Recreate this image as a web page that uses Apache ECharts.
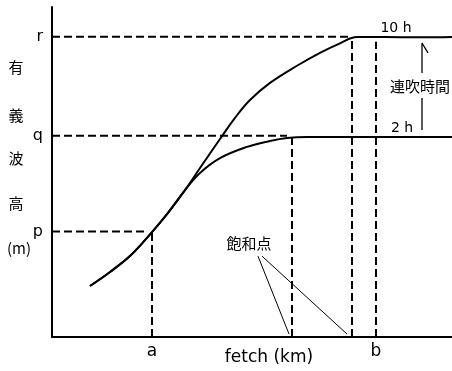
<!DOCTYPE html>
<html>
<head>
<meta charset="utf-8">
<script src="https://cdn.jsdelivr.net/npm/echarts@6/dist/echarts.min.js"></script>
<style>html,body{margin:0;padding:0;background:#fff}#c{width:452px;height:371px}</style>
</head>
<body>
<div id="c"></div>
<script>
// ---- data (arbitrary units: fetch 0..100, wave height 0..100) ----
const xTickLabels = ['a', 'b'];
const xTickValues = [25, 81];
const yTickLabels = ['p', 'q', 'r'];
const yTickValues = [32, 61, 91];
const yTitleChars = ['有', '義', '波', '高', '(m)'];
const xTitle = 'fetch (km)';
const curveNames = ['10 h', '2 h'];
const durationLabel = '連吹時間';
const saturationLabel = '飽和点';

const curve10h = [
  [9.5, 15.45], [14.5, 19.7], [19.75, 24.85], [25, 31.8], [29, 37.6],
  [33.25, 44.5], [37, 51.2], [42, 60], [45.75, 66.4], [49.5, 71.8],
  [54.5, 77.0], [61.25, 82.2], [67, 86.1], [72, 89.0], [76.25, 90.9],
  [83.25, 90.9], [92, 90.8], [100, 90.9]
];
const curve2h = [
  [9.5, 15.45], [14.5, 19.7], [19.75, 24.85], [25, 31.8], [29, 37.6],
  [33.25, 44.5], [37, 49.7], [42, 54.2], [48.75, 57.6], [54.5, 59.4],
  [58.75, 60.3], [63.75, 60.6], [77, 60.6], [100, 60.6]
];
const sat2h = 60, sat10h = 75;
const hDashes = [
  [[0, 32], [23.5, 32]],
  [[0, 61], [58.75, 61]],
  [[0, 91], [74.5, 91]]
];
const vDashes = [
  [[25, 0], [25, 31.8]],
  [[sat2h, 0], [sat2h, 60.3]],
  [[sat10h, 0], [sat10h, 90.5]],
  [[81, 0], [81, 89.5]]
];
const pointers = [
  [[51.5, 24.5], [59.25, 0.9]],
  [[52.5, 24.5], [73.75, 0.9]]
];
const arrowLower = [[92.5, 62.7], [92.5, 72.4]];
const arrowUpper = [[92.5, 80], [92.5, 89.1], [94, 86.1]];

// ---- chart ----
const FONT = '"Noto Sans CJK JP", "Noto Sans", sans-serif';
const LFONT = '"DejaVu Sans", sans-serif';
const chart = echarts.init(document.getElementById('c'), null, {renderer: 'canvas'});

function lineSeries(data, opts) {
  return Object.assign({
    type: 'line', data: data, symbol: 'none', silent: true,
    lineStyle: {color: '#000', width: 2}, z: 3
  }, opts);
}

const series = [];
series.push(lineSeries(curve10h, {smooth: 0.4, lineStyle: {color: '#000', width: 2}}));
series.push(lineSeries(curve2h, {smooth: 0.4, lineStyle: {color: '#000', width: 2}}));
hDashes.concat(vDashes).forEach(d => series.push(lineSeries(d, {
  lineStyle: {color: '#000', width: 2, type: [8, 4]}, z: 2
})));
pointers.forEach(d => series.push(lineSeries(d, {lineStyle: {color: '#000', width: 1}})));
series.push(lineSeries(arrowLower, {lineStyle: {color: '#000', width: 1.3}}));
series.push(lineSeries(arrowUpper, {lineStyle: {color: '#000', width: 1.3}}));

const yTitlePos = [[16, 67], [16, 115], [16, 158], [16, 203], [19, 248]];
const graphic = yTitleChars.map((t, i) => ({
  type: 'text', x: yTitlePos[i][0], y: yTitlePos[i][1],
  style: {text: t, font: '15px ' + FONT, fill: '#000', align: 'center', verticalAlign: 'middle'}
}));
graphic.push({type: 'text', x: 269, y: 358, style: {text: xTitle, font: '17px ' + LFONT, fill: '#000', align: 'center', verticalAlign: 'middle'}});
graphic.push({type: 'text', x: 396, y: 28, style: {text: curveNames[0], font: '14px ' + LFONT, fill: '#000', align: 'center', verticalAlign: 'middle'}});
graphic.push({type: 'text', x: 402, y: 128, style: {text: curveNames[1], font: '14px ' + LFONT, fill: '#000', align: 'center', verticalAlign: 'middle'}});
graphic.push({type: 'text', x: 420, y: 86, style: {text: durationLabel, font: '15px ' + FONT, fill: '#000', align: 'center', verticalAlign: 'middle'}});
graphic.push({type: 'text', x: 249, y: 243, style: {text: saturationLabel, font: '15px ' + FONT, fill: '#000', align: 'center', verticalAlign: 'middle'}});

chart.setOption({
  animation: false,
  backgroundColor: '#fff',
  grid: {left: 52, right: 0, top: 7, bottom: 34, containLabel: false},
  xAxis: {
    type: 'value', min: 0, max: 100,
    axisLine: {show: true, onZero: false, lineStyle: {color: '#000', width: 2}},
    axisTick: {show: false},
    splitLine: {show: false},
    axisLabel: {
      customValues: xTickValues, margin: 6, color: '#000', fontSize: 17, fontFamily: LFONT,
      formatter: v => { const i = xTickValues.indexOf(v); return i >= 0 ? xTickLabels[i] : ''; }
    }
  },
  yAxis: {
    type: 'value', min: 0, max: 100,
    axisLine: {show: true, onZero: false, lineStyle: {color: '#000', width: 2}},
    axisTick: {show: false},
    splitLine: {show: false},
    axisLabel: {
      customValues: yTickValues, margin: 9, color: '#000', fontSize: 16, fontFamily: LFONT,
      formatter: v => { const i = yTickValues.indexOf(v); return i >= 0 ? yTickLabels[i] : ''; }
    }
  },
  series: series,
  graphic: graphic
});
</script>
</body>
</html>
